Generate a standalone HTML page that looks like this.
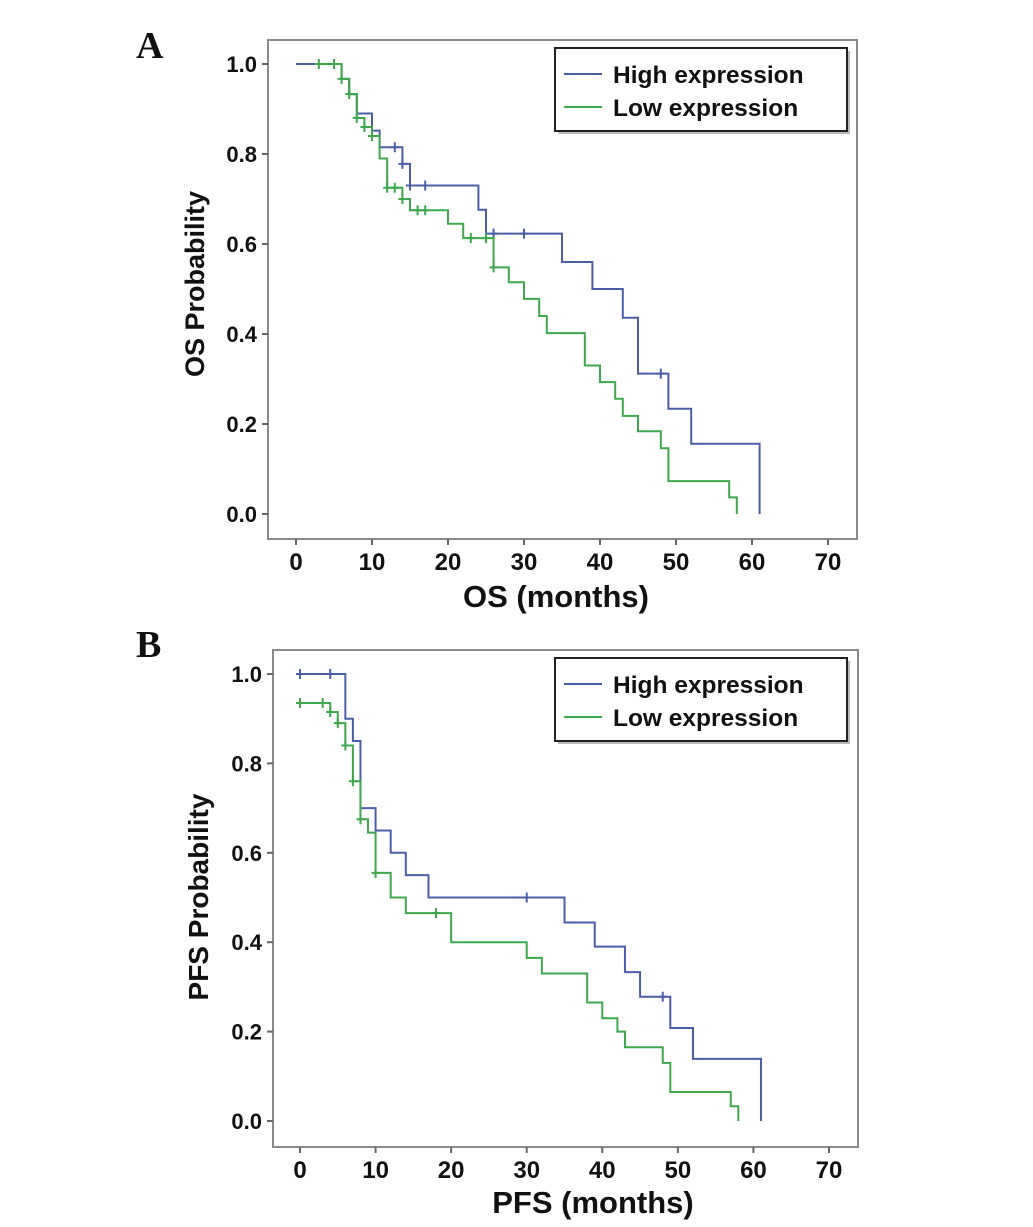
<!DOCTYPE html>
<html><head><meta charset="utf-8"><style>
body{margin:0;background:#fff;}
svg text{font-family:"Liberation Sans",Arial,sans-serif;font-weight:bold;fill:#111;}
</style></head><body>
<svg id="fig" width="1033" height="1222" viewBox="0 0 1033 1222" xmlns="http://www.w3.org/2000/svg"></svg>
<script>
// Panel A data (OS)
const xTicks=[0,10,20,30,40,50,60,70];
const yTicks=[0,0.2,0.4,0.6,0.8,1.0];
const yTickLabels=["0.0","0.2","0.4","0.6","0.8","1.0"];
const osHighT=[0,6,7,8,10,11,14,15,24,25,35,39,43,45,49,52,61];
const osHighS=[1,0.967,0.933,0.89,0.852,0.815,0.778,0.73,0.676,0.623,0.56,0.5,0.436,0.312,0.234,0.156,0];
const osHighCens=[13,14,15,17,26,30,48];
const osLowT=[3,6,7,8,9,10,11,12,14,15,20,22,26,28,30,32,33,38,40,42,43,45,48,49,57,58];
const osLowS=[1,0.967,0.933,0.88,0.86,0.84,0.79,0.725,0.70,0.675,0.645,0.613,0.548,0.515,0.478,0.44,0.402,0.33,0.293,0.256,0.218,0.184,0.146,0.073,0.037,0];
const osLowCens=[3,5,6,7,8,9,10,12,13,14,16,17,23,25,26];
// Panel B data (PFS)
const pfsHighT=[0,6,7,8,10,12,14,17,35,39,43,45,49,52,61];
const pfsHighS=[1,0.9,0.85,0.70,0.65,0.60,0.55,0.50,0.444,0.39,0.333,0.278,0.208,0.139,0];
const pfsHighCens=[0,4,30,48];
const pfsLowT=[0,4,5,6,7,8,9,10,12,14,20,30,32,38,40,42,43,48,49,57,58];
const pfsLowS=[0.935,0.915,0.89,0.84,0.76,0.675,0.645,0.555,0.50,0.465,0.40,0.365,0.33,0.265,0.23,0.20,0.165,0.13,0.065,0.033,0];
const pfsLowCens=[0,3,4,5,6,7,8,10,18];

const NS="http://www.w3.org/2000/svg";
const svg=document.getElementById('fig');
function mk(tag,attrs,parent){const e=document.createElementNS(NS,tag);for(const k in attrs)e.setAttribute(k,attrs[k]);(parent||svg).appendChild(e);return e;}
function survAt(T,S,t){let s=S[0];for(let i=0;i<T.length;i++){if(T[i]<=t)s=S[i];}return s;}

function panel(o){
  const g=mk('g',{});
  
  
  const X=v=>o.x0+(v)*(o.x70-o.x0)/70;
  const Y=v=>o.y0+(o.y1-o.y0)*v;
  const fr=mk('rect',{x:o.fl,y:o.ft,width:o.fr-o.fl,height:o.fb-o.ft,fill:'none',stroke:'#8a8a8a','stroke-width':2},g);
  
  const lt=mk('text',{x:o.lx,y:o.ly,'font-size':38},g);
  lt.textContent=o.letter;lt.style.fontFamily='"Liberation Serif",serif';
  
  xTicks.forEach(v=>{
    const l=mk('line',{x1:X(v),x2:X(v),y1:o.fb,y2:o.fb+6,stroke:'#666','stroke-width':2},g);
    
    const t=mk('text',{x:X(v),y:o.fb+31,'font-size':24,'text-anchor':'middle'},g);
    t.textContent=v;
  });
  yTicks.forEach((v,i)=>{
    const l=mk('line',{x1:o.fl-6,x2:o.fl,y1:Y(v),y2:Y(v),stroke:'#666','stroke-width':2},g);
    
    const t=mk('text',{x:o.fl-11,y:Y(v)+8,'font-size':22,'text-anchor':'end'},g);
    t.textContent=yTickLabels[i];
  });
  const xt=mk('text',{x:o.xtx,y:o.xty,'font-size':31,'text-anchor':'middle'},g);
  xt.textContent=o.xtitle;
  const yt=mk('text',{x:0,y:0,'font-size':o.ytfs,'text-anchor':'middle',transform:`translate(${o.ytx},${o.yty}) rotate(-90)`},g);
  yt.textContent=o.ytitle;
  o.series.forEach(s=>{
    let d=`M${X(s.T[0])},${Y(s.S[0])}`;
    for(let i=1;i<s.T.length;i++){d+=` H${X(s.T[i])} V${Y(s.S[i])}`;}
    const p=mk('path',{d:d,fill:'none',stroke:s.color,'stroke-width':2},g);
    
    s.C.forEach(c=>{
      const yy=Y(survAt(s.T,s.S,c));
      const m=mk('path',{d:`M${X(c)},${yy-5} V${yy+5} M${X(c)-4},${yy} H${X(c)+4}`,stroke:s.color,'stroke-width':2},g);
      
    });
  });
  const lg=mk('g',{},g);
  mk('rect',{x:o.lgx+3,y:o.lgy+3,width:292,height:83,fill:'#bbb'},lg);
  mk('rect',{x:o.lgx,y:o.lgy,width:292,height:83,fill:'#fff',stroke:'#222','stroke-width':2},lg);
  o.series.forEach((s,i)=>{
    const yy=o.lgy+26+i*33;
    const l=mk('line',{x1:o.lgx+9,x2:o.lgx+47,y1:yy,y2:yy,stroke:s.color,'stroke-width':2},lg);
    
    const t=mk('text',{x:o.lgx+58,y:yy+9,'font-size':24.5},lg);
    t.textContent=s.label;
  });
}
const BLUE='#4d5ea8',GREEN='#3da84c';
panel({name:'panel-a-os',letter:'A',lx:136,ly:58,fl:268,ft:40,fr:857,fb:539,x0:296,x70:828,y0:514,y1:64,
  xtitle:'OS (months)',xtx:556,xty:607,ytitle:'OS Probability',ytfs:27,ytx:204,yty:284,lgx:555,lgy:48,
  series:[{name:'high',label:'High expression',color:BLUE,T:osHighT,S:osHighS,C:osHighCens},
          {name:'low',label:'Low expression',color:GREEN,T:osLowT,S:osLowS,C:osLowCens}]});
panel({name:'panel-b-pfs',letter:'B',lx:136,ly:657,fl:273,ft:650,fr:858,fb:1147,x0:300,x70:829,y0:1121,y1:674,
  xtitle:'PFS (months)',xtx:593,xty:1213,ytitle:'PFS Probability',ytfs:28,ytx:208,yty:897,lgx:555,lgy:658,
  series:[{name:'high',label:'High expression',color:BLUE,T:pfsHighT,S:pfsHighS,C:pfsHighCens},
          {name:'low',label:'Low expression',color:GREEN,T:pfsLowT,S:pfsLowS,C:pfsLowCens}]});
</script>
</body></html>
